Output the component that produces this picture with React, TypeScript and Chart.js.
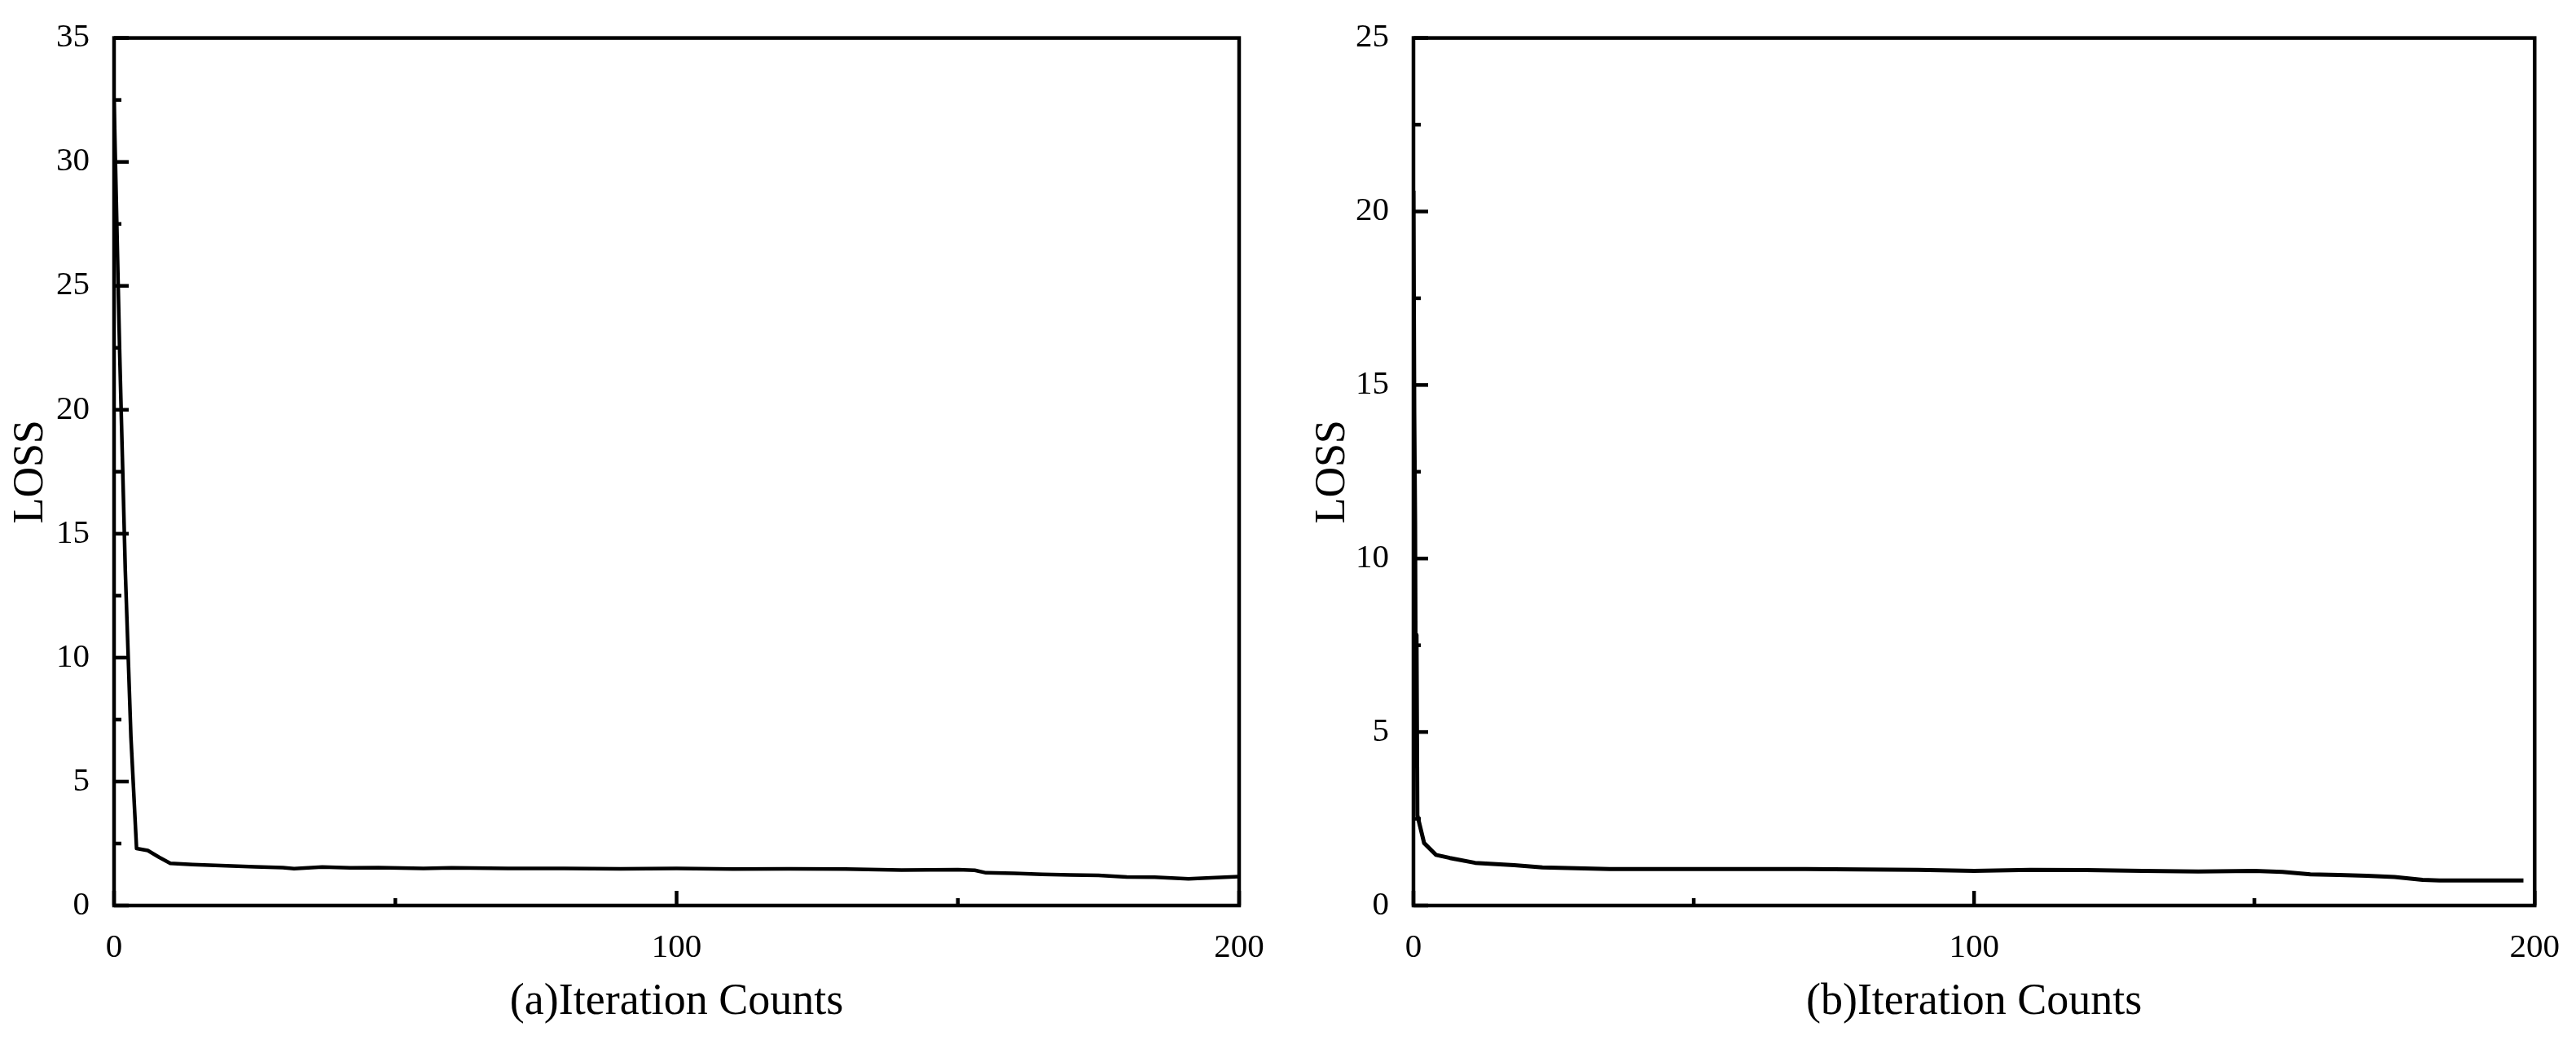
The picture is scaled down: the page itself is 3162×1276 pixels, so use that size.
import React, { useEffect, useRef } from "react";
import { Chart, registerables } from "chart.js";

Chart.register(...registerables);

// ---------- data ----------
const iterA = [0, 1, 2, 3, 4, 6, 8, 10, 14, 18, 25, 30, 32, 37, 42, 47, 55, 60, 70, 80, 90, 100, 110, 120, 130, 140, 150, 153, 155, 160, 165, 170, 175, 180, 185, 191, 195, 200];
const lossA = [32.5, 22.3, 13.5, 6.8, 2.3, 2.22, 1.95, 1.7, 1.65, 1.62, 1.56, 1.53, 1.49, 1.55, 1.52, 1.53, 1.5, 1.52, 1.5, 1.5, 1.48, 1.5, 1.47, 1.48, 1.47, 1.43, 1.45, 1.42, 1.32, 1.3, 1.26, 1.23, 1.22, 1.15, 1.14, 1.08, 1.12, 1.17];

const iterB = [0, 0.15, 0.3, 0.45, 0.55, 0.7, 1.9, 4, 6.5, 11, 18, 23, 35, 50, 70, 90, 100, 110, 120, 130, 140, 150, 155, 160, 165, 170, 175, 180, 183, 198];
const lossB = [20.6, 14.2, 11, 4, 7.8, 2.6, 1.8, 1.46, 1.37, 1.23, 1.16, 1.1, 1.05, 1.05, 1.05, 1.03, 1.0, 1.03, 1.02, 1.0, 0.98, 1.0, 0.97, 0.9, 0.88, 0.86, 0.82, 0.74, 0.72, 0.72];

const xMajorTicks = [0, 100, 200];
const xMinorTicks = [50, 150];
const yMajorTicksA = [0, 5, 10, 15, 20, 25, 30, 35];
const yMinorTicksA = [2.5, 7.5, 12.5, 17.5, 22.5, 27.5, 32.5];
const yMajorTicksB = [0, 5, 10, 15, 20, 25];
const yMinorTicksB = [2.5, 7.5, 12.5, 17.5, 22.5];

const FONT = "'Liberation Serif', 'DejaVu Serif', serif";

type Props = {
  xs: number[];
  ys: number[];
  yMax: number;
  yMajor: number[];
  yMinor: number[];
  title: string;
  yAxisWidth: number;
  padRight: number;
  yTitlePad: number;
  lineWidth: number;
};

const framePlugin = {
  id: "frameTicks",
  afterDraw(chart: any, _args: any, opts: any) {
    const { ctx, chartArea } = chart;
    const x = chart.scales.x;
    const y = chart.scales.y;
    ctx.save();
    ctx.strokeStyle = "#000";
    ctx.lineCap = "butt";
    ctx.lineWidth = 4.5;
    const drawY = (vals: number[], len: number) => {
      vals.forEach((v) => {
        const py = y.getPixelForValue(v);
        ctx.beginPath();
        ctx.moveTo(chartArea.left, py);
        ctx.lineTo(chartArea.left + len, py);
        ctx.stroke();
      });
    };
    const drawX = (vals: number[], len: number) => {
      vals.forEach((v) => {
        const px = x.getPixelForValue(v);
        ctx.beginPath();
        ctx.moveTo(px, chartArea.bottom);
        ctx.lineTo(px, chartArea.bottom - len);
        ctx.stroke();
      });
    };
    drawY(opts.yMajor, 18);
    drawY(opts.yMinor, 9);
    drawX(opts.xMajor, 18);
    drawX(opts.xMinor, 9);
    ctx.lineWidth = 4.5;
    ctx.strokeRect(chartArea.left, chartArea.top, chartArea.right - chartArea.left, chartArea.bottom - chartArea.top);
    ctx.restore();
  },
};

function LossChart(p: Props) {
  const ref = useRef<HTMLCanvasElement | null>(null);
  useEffect(() => {
    if (!ref.current) return;
    const chart = new Chart(ref.current, {
      type: "line",
      data: {
        datasets: [
          {
            data: p.xs.map((x, i) => ({ x, y: p.ys[i] })),
            borderColor: "#000",
            borderWidth: p.lineWidth,
            pointRadius: 0,
            tension: 0,
            fill: false,
            borderJoinStyle: "round",
          },
        ],
      },
      options: {
        responsive: false,
        animation: false,
        events: [],
        layout: { padding: { top: 33, right: p.padRight, left: 0, bottom: 0 } },
        plugins: {
          legend: { display: false },
          tooltip: { enabled: false },
          frameTicks: { yMajor: p.yMajor, yMinor: p.yMinor, xMajor: xMajorTicks, xMinor: xMinorTicks },
        } as any,
        scales: {
          x: {
            type: "linear",
            min: 0,
            max: 200,
            grid: { display: false },
            border: { display: false },
            ticks: {
              stepSize: 100,
              padding: 20,
              color: "#000",
              font: { family: FONT, size: 41 },
              maxRotation: 0,
            },
            title: {
              display: true,
              text: p.title,
              color: "#000",
              font: { family: FONT, size: 54 },
              padding: { top: 0, bottom: 14 },
            },
            afterFit: (s: any) => {
              s.height = 165;
            },
          },
          y: {
            type: "linear",
            min: 0,
            max: p.yMax,
            grid: { display: false },
            border: { display: false },
            ticks: {
              stepSize: 5,
              padding: 22,
              color: "#000",
              font: { family: FONT, size: 41 },
            },
            title: {
              display: true,
              text: "LOSS",
              color: "#000",
              font: { family: FONT, size: 52 },
              padding: { top: p.yTitlePad, bottom: 0 },
            },
            afterFit: (s: any) => {
              s.width = p.yAxisWidth;
            },
          },
        },
      },
      plugins: [framePlugin],
    } as any);
    return () => chart.destroy();
  }, []);
  return <canvas ref={ref} width={1581} height={1276} style={{ display: "block" }} />;
}

export default function App() {
  useEffect(() => {
    document.body.style.margin = "0";
  }, []);
  return (
    <div style={{ display: "flex", width: 3162, height: 1276, background: "#fff" }}>
      <LossChart
        xs={iterA}
        ys={lossA}
        yMax={35}
        yMajor={yMajorTicksA}
        yMinor={yMinorTicksA}
        title="(a)Iteration Counts"
        yAxisWidth={140}
        padRight={60}
        yTitlePad={7}
        lineWidth={4.5}
      />
      <LossChart
        xs={iterB}
        ys={lossB}
        yMax={25}
        yMajor={yMajorTicksB}
        yMinor={yMinorTicksB}
        title="(b)Iteration Counts"
        yAxisWidth={154}
        padRight={45}
        yTitlePad={24}
        lineWidth={5}
      />
    </div>
  );
}
